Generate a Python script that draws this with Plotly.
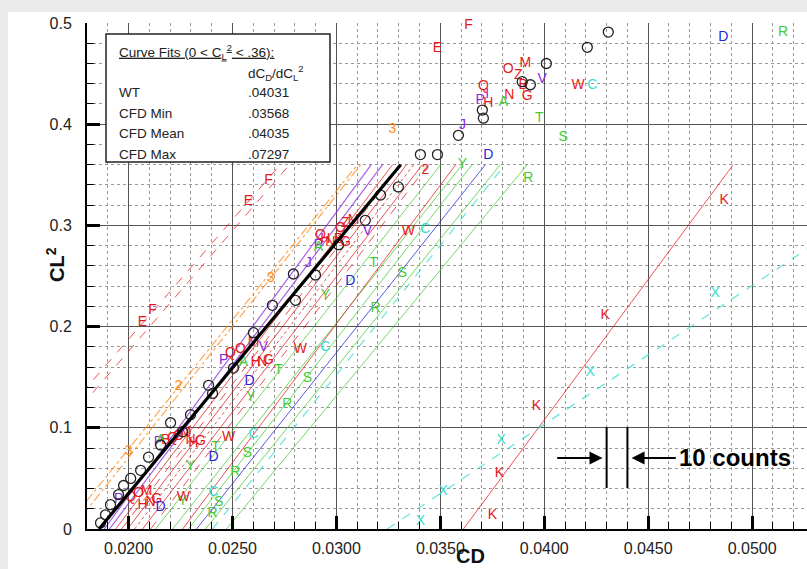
import plotly.graph_objects as go

FONT = "Liberation Sans, Arial, Helvetica, sans-serif"
RED = "#e41a1c"
PURPLE = "#8a2be2"
GREEN = "#44cc33"
BLUE = "#2323dd"
CYAN = "#38dccf"
ORANGE = "#ff8c1a"
BLACK = "#000000"

# ---------------- axis ----------------
x_range = [0.0180, 0.05264]
y_range = [0.0, 0.5]
x_ticks = [0.020, 0.025, 0.030, 0.035, 0.040, 0.045, 0.050]
x_ticklabels = ["0.0200", "0.0250", "0.0300", "0.0350", "0.0400", "0.0450", "0.0500"]
y_ticks = [0.0, 0.1, 0.2, 0.3, 0.4, 0.5]
y_ticklabels = ["0", "0.1", "0.2", "0.3", "0.4", "0.5"]

# ---------------- wind tunnel data (circles) ----------------
wt_cd = [0.01865, 0.01889, 0.01913, 0.01952, 0.01976, 0.02010, 0.02058, 0.02096,
         0.02154, 0.02202, 0.02260, 0.02298, 0.02385, 0.02404, 0.02505, 0.02601,
         0.02692, 0.02803, 0.02793, 0.02899, 0.03010, 0.03139, 0.03212, 0.03298,
         0.03404, 0.03486, 0.03587, 0.03702, 0.03707, 0.03894, 0.03933, 0.04010,
         0.04207, 0.04308]
wt_cl2 = [0.006, 0.014, 0.024, 0.034, 0.043, 0.050, 0.058, 0.071,
          0.083, 0.105, 0.096, 0.113, 0.142, 0.134, 0.159, 0.194,
          0.221, 0.226, 0.252, 0.251, 0.281, 0.305, 0.330, 0.338,
          0.370, 0.370, 0.389, 0.414, 0.406, 0.442, 0.439, 0.460,
          0.476, 0.491]

# ---------------- curve fits, 0 < CL^2 < .36 ----------------
fit_cl2_max = 0.36
fit_names = ["E", "F", "O2", "O3", "P", "J",
             "r1", "r2", "r3", "r4", "r5", "r6",
             "A", "Y", "W", "T", "D", "S", "C", "R", "K", "X", "WT"]
fit_cd0 = [0.01207, 0.01262, 0.01690, 0.01727, 0.01883, 0.01908,
           0.01938, 0.01966, 0.01995, 0.02029, 0.02067, 0.02106,
           0.02130, 0.02212, 0.02260, 0.02288, 0.02327, 0.02370, 0.02404, 0.02471,
           0.03611, 0.03245, 0.01858]
fit_slope = [0.0423, 0.0420, 0.0392, 0.0386, 0.03568, 0.0365,
             0.0370, 0.0373, 0.0373, 0.0373, 0.0374, 0.0371,
             0.0381, 0.0387, 0.0365, 0.0379, 0.0386, 0.0394, 0.0391, 0.0402,
             0.03606, 0.07297, 0.04031]
fit_style = {
    "E": (RED, "dash", 1), "F": (RED, "dash", 1),
    "O2": (ORANGE, "dashdot", 1.2), "O3": (ORANGE, "dashdot", 1.2),
    "P": (PURPLE, "solid", 1.2), "J": (PURPLE, "solid", 1.2),
    "r1": (RED, "solid", 1), "r2": (RED, "dash", 1), "r3": (RED, "solid", 1),
    "r4": (RED, "dot", 1), "r5": (RED, "solid", 1), "r6": (RED, "dash", 1),
    "A": (GREEN, "solid", 1), "Y": (GREEN, "solid", 1), "W": (RED, "solid", 1),
    "T": (GREEN, "solid", 1), "D": (BLUE, "solid", 1), "S": (GREEN, "solid", 1),
    "C": (CYAN, "dash", 1.2), "R": (GREEN, "solid", 1), "K": (RED, "solid", 1),
    "X": (CYAN, "dash", 1.3), "WT": (BLACK, "solid", 3.2),
}

# ---------------- CFD letter symbols ----------------
lbl_E = ([0.02067, 0.02577, 0.03486], [0.2036, 0.3241, 0.4753])
lbl_F = ([0.02115, 0.02673, 0.03635], [0.2164, 0.3439, 0.4980])
lbl_3 = ([0.02000, 0.02683, 0.03269], [0.0761, 0.2480, 0.3943])
lbl_2o = ([0.02240], [0.1413])
lbl_2r = ([0.03428], [0.3547])
lbl_P = ([0.01952, 0.02144, 0.02457, 0.02913, 0.03692], [0.0287, 0.0850, 0.1670, 0.2806, 0.4239])
lbl_J = ([0.02865, 0.03606], [0.2628, 0.3992])
lbl_V = ([0.02649, 0.03149, 0.03990], [0.1789, 0.2935, 0.4437])
lbl_I = ([0.03726], [0.4289])
lbl_Q = ([0.02010, 0.02212, 0.02490, 0.02923, 0.03707], [0.0316, 0.0899, 0.1739, 0.2905, 0.4368])
lbl_O = ([0.02048, 0.02240, 0.02538, 0.03019, 0.03827], [0.0346, 0.0919, 0.1769, 0.2974, 0.4545])
lbl_M = ([0.02087, 0.02274, 0.02601, 0.03082, 0.03909], [0.0366, 0.0949, 0.1838, 0.3053, 0.4595])
lbl_Z = ([0.03043, 0.03875], [0.3014, 0.4486])
lbl_N = ([0.02106, 0.02298, 0.02644, 0.02971, 0.03832], [0.0257, 0.0879, 0.1650, 0.2836, 0.4279])
lbl_G = ([0.02135, 0.02346, 0.02673, 0.03043, 0.03918], [0.0287, 0.0860, 0.1670, 0.2836, 0.4269])
lbl_H = ([0.02067, 0.02312, 0.02611, 0.02947, 0.03731], [0.0237, 0.0840, 0.1650, 0.2856, 0.4209])
lbl_B = ([0.02178, 0.03010, 0.03899], [0.0870, 0.2856, 0.4387])
lbl_A = ([0.02154, 0.02553, 0.02913, 0.03803], [0.0879, 0.1650, 0.2777, 0.4219])
lbl_T = ([0.02418, 0.02721, 0.03178, 0.03976], [0.0810, 0.1571, 0.2628, 0.4061])
lbl_S = ([0.02433, 0.02572, 0.02861, 0.03317, 0.04091], [0.0257, 0.0751, 0.1492, 0.2520, 0.3864])
lbl_R = ([0.02404, 0.02514, 0.02764, 0.03188, 0.03923, 0.05149], [0.0158, 0.0563, 0.1235, 0.2174, 0.3468, 0.4911])
lbl_Y = ([0.02260, 0.02298, 0.02587, 0.02947, 0.03606], [0.0267, 0.0613, 0.1304, 0.2312, 0.3597])
lbl_D = ([0.02154, 0.02409, 0.02582, 0.03067, 0.03731, 0.04861], [0.0208, 0.0702, 0.1462, 0.2441, 0.3686, 0.4852])
lbl_W = ([0.02264, 0.02481, 0.02827, 0.03346, 0.04163], [0.0316, 0.0909, 0.1769, 0.2935, 0.4387])
lbl_C = ([0.02409, 0.02601, 0.02947, 0.03428, 0.04231], [0.0356, 0.0929, 0.1789, 0.2955, 0.4387])
lbl_X = ([0.03404, 0.03514, 0.03793, 0.04221, 0.04822], [0.0079, 0.0366, 0.0870, 0.1551, 0.2332])
lbl_K = ([0.03750, 0.03784, 0.03962, 0.04293, 0.04865], [0.0138, 0.0553, 0.1206, 0.2105, 0.3251])

letter_sets = [
    ("E", lbl_E, RED), ("F", lbl_F, RED), ("3", lbl_3, ORANGE), ("2", lbl_2o, ORANGE),
    ("2", lbl_2r, RED), ("P", lbl_P, PURPLE), ("J", lbl_J, PURPLE), ("V", lbl_V, PURPLE),
    ("I", lbl_I, PURPLE), ("Q", lbl_Q, RED), ("O", lbl_O, RED), ("M", lbl_M, RED),
    ("Z", lbl_Z, RED), ("N", lbl_N, RED), ("G", lbl_G, RED), ("H", lbl_H, RED),
    ("B", lbl_B, RED), ("A", lbl_A, GREEN), ("T", lbl_T, GREEN), ("S", lbl_S, GREEN),
    ("R", lbl_R, GREEN), ("Y", lbl_Y, GREEN), ("D", lbl_D, BLUE), ("W", lbl_W, RED),
    ("C", lbl_C, CYAN), ("X", lbl_X, CYAN), ("K", lbl_K, RED),
]

# ---------------- legend table ----------------
table_rows = ["WT", "CFD Min", "CFD Mean", "CFD Max"]
table_vals = [".04031", ".03568", ".04035", ".07297"]

# ---------------- 10 counts marker ----------------
counts_left = 0.0430
counts_right = 0.0440

fig = go.Figure()

for name, cd0, k in zip(fit_names, fit_cd0, fit_slope):
    if name == "WT":
        continue
    col, dash, w = fit_style[name]
    fig.add_trace(go.Scatter(x=[cd0, cd0 + k * fit_cl2_max], y=[0, fit_cl2_max],
                             mode="lines", line=dict(color=col, dash=dash, width=w),
                             opacity=0.75, hoverinfo="skip", showlegend=False))

for code, (cds, cls), col in letter_sets:
    fig.add_trace(go.Scatter(x=cds, y=cls, mode="text", text=[code] * len(cds),
                             textfont=dict(family=FONT, size=14, color=col),
                             hoverinfo="skip", showlegend=False, cliponaxis=False))

fig.add_trace(go.Scatter(x=wt_cd, y=wt_cl2, mode="markers",
                         marker=dict(symbol="circle-open", size=10, color="#222",
                                     line=dict(width=1.3, color="#222")),
                         hoverinfo="skip", showlegend=False))

i = fit_names.index("WT")
col, dash, w = fit_style["WT"]
fig.add_trace(go.Scatter(x=[fit_cd0[i], fit_cd0[i] + fit_slope[i] * fit_cl2_max], y=[0, fit_cl2_max],
                         mode="lines", line=dict(color=col, width=w), hoverinfo="skip",
                         showlegend=False))

L, T, B = 87, 23, 40
W, H = 807, 569
pw, ph = W - L, H - T - B


def px(xp):
    return (xp - L) / pw


def py(yp):
    return (H - B - yp) / ph


shapes = [
    dict(type="rect", xref="paper", yref="paper", x0=px(8), x1=px(W + 5), y0=py(H + 5), y1=py(12),
         fillcolor="white", line=dict(width=0), layer="below"),
    dict(type="rect", xref="paper", yref="paper", x0=px(106), x1=px(330), y0=py(162), y1=py(34),
         fillcolor="white", line=dict(color="#222", width=1.5), layer="above"),
    dict(type="line", xref="x", yref="y", x0=counts_left, x1=counts_left, y0=0.0405, y1=0.1008,
         line=dict(color="black", width=2)),
    dict(type="line", xref="x", yref="y", x0=counts_right, x1=counts_right, y0=0.0405, y1=0.1008,
         line=dict(color="black", width=2)),
]

ann = []
tf = dict(family=FONT, size=13.5, color="#222")
ann.append(dict(xref="paper", yref="paper", x=px(117), y=py(52), xanchor="left", yanchor="middle",
                text="<u>Curve Fits (0 &lt; C<sub>L</sub><sup>2</sup> &lt; .36):</u>", showarrow=False, font=tf))
ann.append(dict(xref="paper", yref="paper", x=px(246), y=py(73), xanchor="left", yanchor="middle",
                text="dC<sub>D</sub>/dC<sub>L</sub><sup>2</sup>", showarrow=False, font=tf))
for j, (r, v) in enumerate(zip(table_rows, table_vals)):
    yy = py(93 + j * 20.5)
    ann.append(dict(xref="paper", yref="paper", x=px(117), y=yy, xanchor="left", yanchor="middle",
                    text=r, showarrow=False, font=tf))
    ann.append(dict(xref="paper", yref="paper", x=px(246), y=yy, xanchor="left", yanchor="middle",
                    text=v, showarrow=False, font=tf))

ann.append(dict(x=counts_left - 0.0002, y=0.0702, ax=counts_left - 0.00245, ay=0.0702,
                xref="x", yref="y", axref="x", ayref="y", text="", showarrow=True,
                arrowhead=2, arrowsize=1.3, arrowwidth=2, arrowcolor="black"))
ann.append(dict(x=counts_right + 0.0002, y=0.0702, ax=counts_right + 0.0024, ay=0.0702,
                xref="x", yref="y", axref="x", ayref="y", text="", showarrow=True,
                arrowhead=2, arrowsize=1.3, arrowwidth=2, arrowcolor="black"))
ann.append(dict(x=counts_right + 0.00238, y=0.0702, xref="x", yref="y", xanchor="left",
                yanchor="middle", text="<b>10 counts</b>", showarrow=False,
                font=dict(family=FONT, size=24, color="black")))

ann.append(dict(xref="paper", yref="paper", x=px(470), y=py(556), xanchor="center", yanchor="middle",
                text="<b>CD</b>", showarrow=False, font=dict(family=FONT, size=20, color="#111")))
ann.append(dict(xref="paper", yref="paper", x=px(55), y=py(265), xanchor="center", yanchor="middle",
                text="<b>CL<sup>2</sup></b>", textangle=-90, showarrow=False,
                font=dict(family=FONT, size=20, color="#111")))

axis_common = dict(showline=True, linecolor="black", linewidth=2, mirror=False,
                   ticks="inside", ticklen=13, tickwidth=2.5, tickcolor="black",
                   showgrid=True, gridcolor="#555", gridwidth=1.2, zeroline=False,
                   automargin=False, tickmode="array",
                   tickfont=dict(family=FONT, size=16, color="#222"))

fig.update_layout(
    width=W, height=H, margin=dict(l=L, r=0, t=T, b=B, pad=0, autoexpand=False),
    paper_bgcolor="#ebebeb", plot_bgcolor="white",
    shapes=shapes, annotations=ann, showlegend=False, hovermode=False,
    xaxis=dict(range=x_range, tickvals=x_ticks, ticktext=x_ticklabels, ticklabelstandoff=4,
               minor=dict(dtick=0.001, tick0=0.0, ticks="inside", ticklen=7, tickwidth=1,
                          tickcolor="black", showgrid=True, gridcolor="#999", griddash="dot",
                          gridwidth=1),
               **axis_common),
    yaxis=dict(range=y_range, tickvals=y_ticks, ticktext=y_ticklabels, ticklabelstandoff=10,
               minor=dict(dtick=0.02, tick0=0.0, ticks="inside", ticklen=7, tickwidth=1,
                          tickcolor="black", showgrid=True, gridcolor="#999", griddash="dot",
                          gridwidth=1),
               **axis_common),
)

fig.write_html("out.html", config={"displayModeBar": False},
               post_script="document.body.style.margin='0';document.body.style.overflow='hidden';")
